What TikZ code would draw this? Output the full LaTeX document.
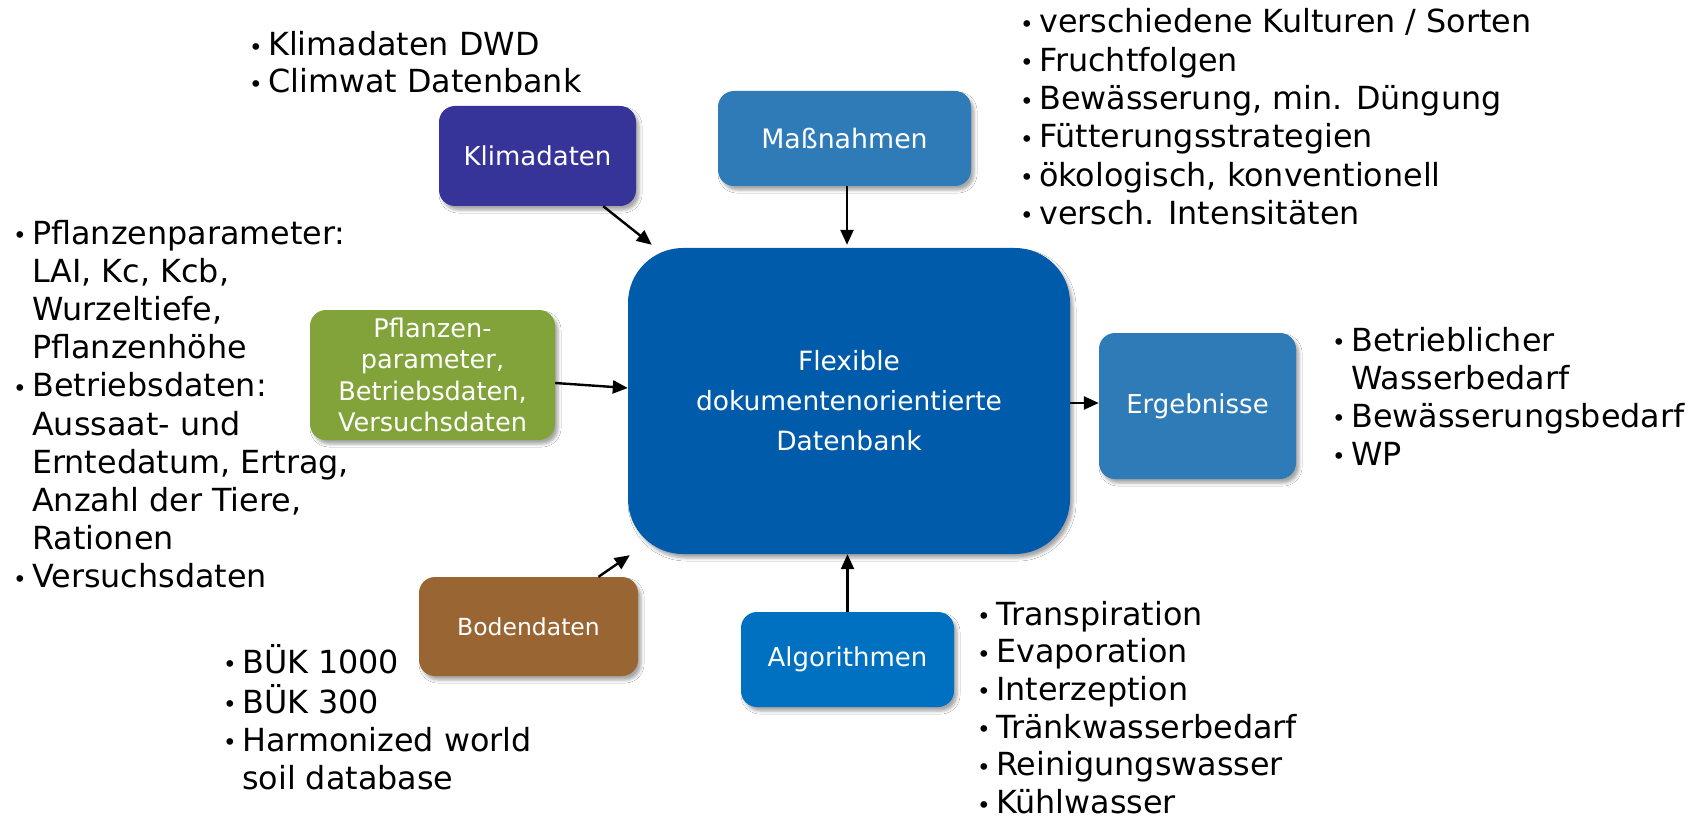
\documentclass[tikz,border=0pt]{standalone}
\usepackage{fontspec}
\setmainfont{DejaVu Sans}
\usetikzlibrary{shadows.blur,arrows.meta}
\definecolor{cKlima}{RGB}{55,52,153}
\definecolor{cMass}{RGB}{46,123,183}
\definecolor{cMain}{RGB}{0,91,170}
\definecolor{cPfl}{RGB}{130,162,58}
\definecolor{cBoden}{RGB}{153,102,51}
\definecolor{cAlg}{RGB}{0,112,192}
\newcommand{\bul}{\makebox[19pt][l]{{\fontsize{23}{23}\selectfont\raisebox{0.5pt}{•}}}}
\newcommand{\ind}{\hspace*{19pt}}
\newcommand{\blist}[2]{{\fontsize{31.8}{#1}\selectfont\renewcommand{\arraystretch}{1}\begin{tabular}[t]{@{}l@{}}#2\end{tabular}}}
\begin{document}
\begin{tikzpicture}[x=1pt,y=-1pt,
  box/.style={rounded corners=16pt, fill=#1, text=white, align=center, inner sep=0pt,
    blur shadow={shadow xshift=3pt, shadow yshift=-4pt, shadow blur radius=3pt, shadow opacity=35}},
  arr/.style={line width=2.4pt, -{Triangle[length=15pt,width=13pt]}},
  lst/.style={anchor=base west, inner sep=0pt, align=left}
]
\useasboundingbox[fill=white] (0,0) rectangle (1704,818);

% boxes
\node[box=cKlima, minimum width=197pt, minimum height=100pt, font=\fontsize{26}{31}\selectfont] (klima) at (537.5,156) {Klimadaten};
\node[box=cMass, minimum width=253pt, minimum height=95pt, font=\fontsize{26.8}{32}\selectfont] (mass) at (844.5,138.5) {Maßnahmen};
\node[box=cMain, rounded corners=55pt, minimum width=442pt, minimum height=306pt, font=\fontsize{26.5}{40}\selectfont] (main) at (849,401) {Flexible\\dokumentenorientierte\\Datenbank};
\node[box=cPfl, minimum width=245pt, minimum height=130pt, font=\fontsize{25.6}{31.5}\selectfont] (pfl) at (432.5,375) {Pflanzen-\\parameter,\\Betriebsdaten,\\Versuchsdaten};
\node[box=cMass, minimum width=197pt, minimum height=146pt, font=\fontsize{26}{31}\selectfont] (erg) at (1197.5,406) {Ergebnisse};
\node[box=cBoden, minimum width=219pt, minimum height=99pt, font=\fontsize{23.5}{28}\selectfont] (boden) at (528.5,626.5) {Bodendaten};
\node[box=cAlg, minimum width=213pt, minimum height=95pt, font=\fontsize{26}{31}\selectfont] (alg) at (847.5,659.5) {Algorithmen};

% arrows
\draw[arr] ([xshift=-33pt]klima.south east) -- ([xshift=24pt,yshift=3pt]main.north west);
\draw[arr] ([xshift=2.5pt]mass.south) -- ([xshift=-2pt,yshift=3pt]main.north);
\draw[arr] ([yshift=-8pt]pfl.east) -- ([yshift=13pt]main.west);
\draw[arr] ([yshift=-2pt]main.east) -- ([yshift=3pt]erg.west);
\draw[arr] ([xshift=70pt]boden.north) -- ([xshift=2pt,yshift=-1pt]main.south west);
\draw[arr] (alg.north) -- ([xshift=-1.5pt]main.south);

% lists
\node[lst] (ltl) at (249,56) {\blist{37}{\bul Klimadaten DWD\\ \bul Climwat Datenbank}};
\node[lst] (ltr) at (1020,33) {\blist{38.3}{\bul verschiedene Kulturen / Sorten\\ \bul Fruchtfolgen\\ \bul Bewässerung, min. Düngung\\ \bul Fütterungsstrategien\\ \bul ökologisch, konventionell\\ \bul versch. Intensitäten}};
\node[lst] (lleft) at (13,244) {\blist{38.2}{\bul Pflanzenparameter:\\ \ind LAI, Kc, Kcb,\\ \ind Wurzeltiefe,\\ \ind Pflanzenhöhe\\ \bul Betriebsdaten:\\ \ind Aussaat- und\\ \ind Erntedatum, Ertrag,\\ \ind Anzahl der Tiere,\\ \ind Rationen\\ \bul Versuchsdaten}};
\node[lst] (lerg) at (1332,351) {\blist{38}{\bul Betrieblicher\\ \ind Wasserbedarf\\ \bul Bewässerungsbedarf\\ \bul WP}};
\node[lst] (lalg) at (977,625) {\blist{37.7}{\bul Transpiration\\ \bul Evaporation\\ \bul Interzeption\\ \bul Tränkwasserbedarf\\ \bul Reinigungswasser\\ \bul Kühlwasser}};
\node[lst] (lboden) at (223,673) {\blist{38}{\bul BÜK 1000\\ \bul BÜK 300\\ \bul Harmonized world\\ \ind soil database}};
\end{tikzpicture}
\end{document}
